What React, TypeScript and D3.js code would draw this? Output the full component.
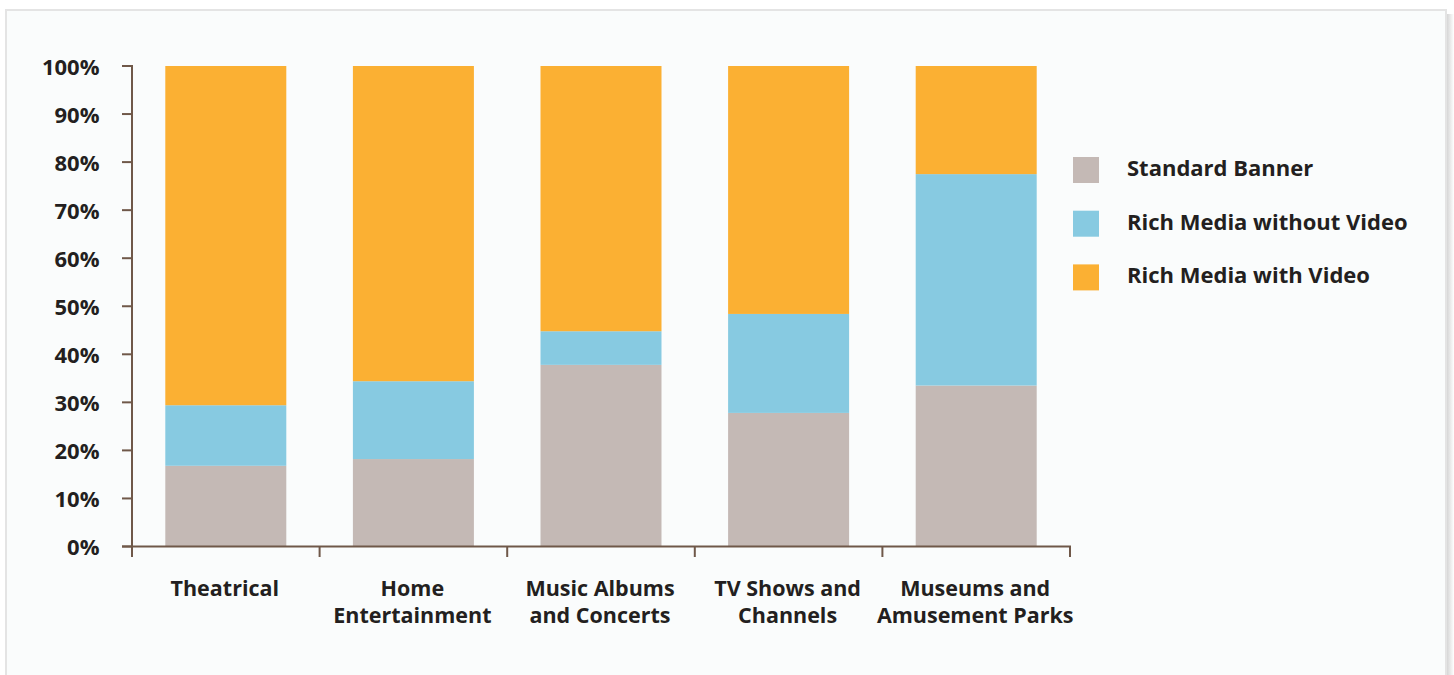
import React, { useEffect } from "react";
import * as d3 from "d3";

const categories = [
  ["Theatrical"],
  ["Home", "Entertainment"],
  ["Music Albums", "and Concerts"],
  ["TV Shows and", "Channels"],
  ["Museums and", "Amusement Parks"],
];
const seriesNames = ["Standard Banner", "Rich Media without Video", "Rich Media with Video"];
const standardBanner = [16.8, 18.2, 37.8, 27.8, 33.5];
const richNoVideo = [12.6, 16.2, 7.0, 20.6, 44.0];
const richVideo = [70.6, 65.6, 55.2, 51.6, 22.5];
const yTicks = [0, 10, 20, 30, 40, 50, 60, 70, 80, 90, 100];
const colors = ["#c4b9b5", "#87cae1", "#fbb033"];

const W = 1454;
const H = 675;
const FONT = "'Open Sans', 'Noto Sans', sans-serif";
const TXT = "#231f20";
const AXIS = "#6f5849";

export default function App() {
  useEffect(() => {
    document.body.style.margin = "0";
  }, []);

  const x = d3
    .scaleBand<number>()
    .domain(d3.range(categories.length))
    .range([132, 1070])
    .paddingInner(0.355)
    .paddingOuter(0.1775);
  const y = d3.scaleLinear().domain([0, 100]).range([546.5, 66]);

  const rows = categories.map((_, i) => ({
    i,
    s0: standardBanner[i],
    s1: richNoVideo[i],
    s2: richVideo[i],
  }));
  const stack = d3.stack<any>().keys(["s0", "s1", "s2"])(rows);

  const step = x.step();
  const tickXs = d3.range(categories.length + 1).map((k) => 132 + k * step);

  return (
    <svg width={W} height={H} style={{ display: "block", background: "#ffffff" }}>
      <defs>
        <linearGradient id="shadow" x1="0" x2="1" y1="0" y2="0">
          <stop offset="0" stopColor="#d0d0d0" />
          <stop offset="1" stopColor="#ffffff" />
        </linearGradient>
      </defs>
      <rect x={1446} y={14} width={8} height={H} fill="url(#shadow)" />
      <rect x={6} y={10} width={1440} height={H} fill="#fafcfc" stroke="#e4e4e4" strokeWidth={2} />

      {stack.map((layer, li) => (
        <g key={li} fill={colors[li]}>
          {layer.map((d, i) => (
            <rect
              key={i}
              x={x(i)}
              width={x.bandwidth()}
              y={y(d[1])}
              height={y(d[0]) - y(d[1])}
            />
          ))}
        </g>
      ))}

      {/* y axis */}
      <line x1={132} x2={132} y1={y(100) - 1} y2={y(0)} stroke={AXIS} strokeWidth={2} />
      {yTicks.map((t) => (
        <g key={t}>
          <line x1={122} x2={132} y1={y(t)} y2={y(t)} stroke={AXIS} strokeWidth={2} />
          <text
            x={99.5}
            y={y(t) + 8.5}
            textAnchor="end"
            fontFamily={FONT}
            fontWeight={700}
            fontSize={22}
            fill={TXT}
          >
            {t}%
          </text>
        </g>
      ))}

      {/* x axis */}
      <line x1={122} x2={1071} y1={y(0)} y2={y(0)} stroke={AXIS} strokeWidth={2} />
      {tickXs.map((tx, k) => (
        <line key={k} x1={tx} x2={tx} y1={y(0)} y2={557} stroke={AXIS} strokeWidth={2} />
      ))}
      {categories.map((lines, i) => (
        <text
          key={i}
          x={(x(i) as number) + x.bandwidth() / 2 - 1}
          y={596}
          textAnchor="middle"
          fontFamily={FONT}
          fontWeight={700}
          fontSize={21.5}
          fill={TXT}
        >
          {lines.map((ln, j) => (
            <tspan key={j} x={(x(i) as number) + x.bandwidth() / 2 - 1} dy={j === 0 ? 0 : 27}>
              {ln}
            </tspan>
          ))}
        </text>
      ))}

      {/* legend */}
      {seriesNames.map((name, i) => (
        <g key={name} transform={`translate(1073, ${157 + i * 53.7})`}>
          <rect x={0} y={0} width={26} height={26} fill={colors[i]} />
          <text
            x={54}
            y={19}
            fontFamily={FONT}
            fontWeight={700}
            fontSize={22}
            fill={TXT}
          >
            {name}
          </text>
        </g>
      ))}
    </svg>
  );
}
